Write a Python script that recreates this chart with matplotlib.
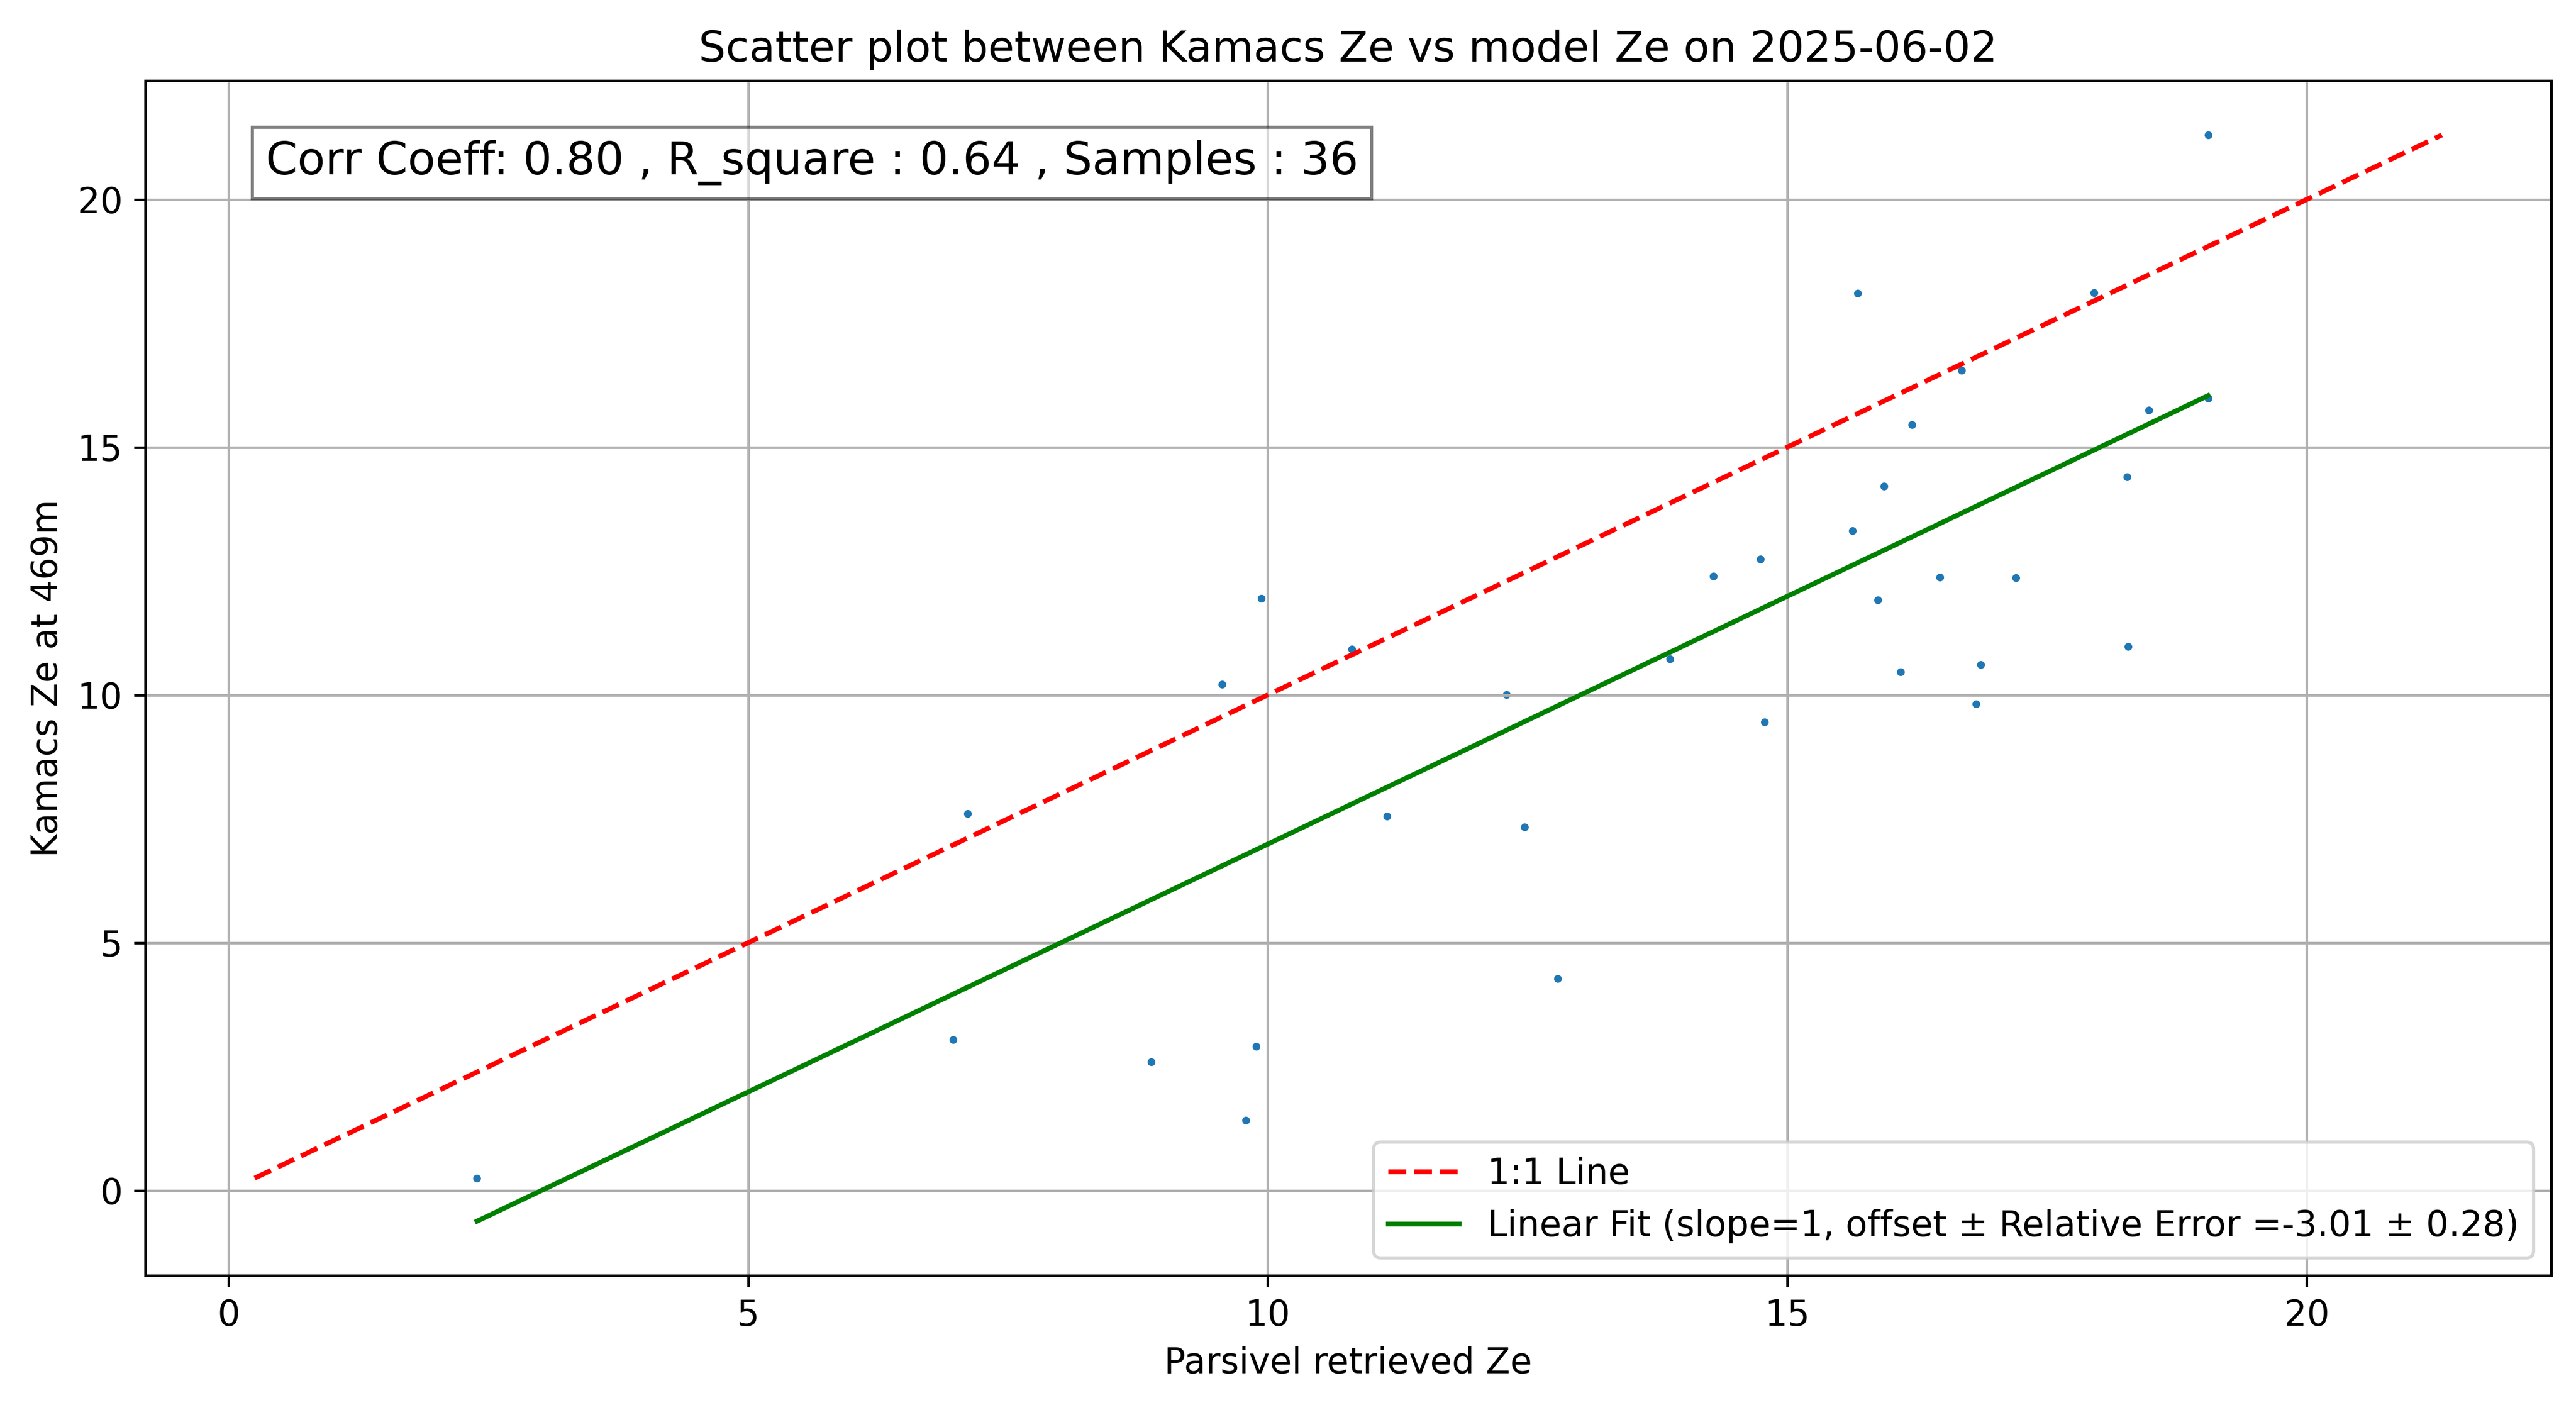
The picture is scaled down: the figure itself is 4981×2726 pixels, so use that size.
import numpy as np
import matplotlib
matplotlib.use('Agg')
import matplotlib.pyplot as plt


# values
parsivel_ze = [2.39, 6.97, 7.11, 8.88, 9.56, 9.79, 9.89, 9.94, 10.81, 11.15,
               12.30, 12.47, 12.79, 13.87, 14.29, 14.74, 14.78, 15.63, 15.68, 15.87,
               15.93, 16.09, 16.20, 16.47, 16.68, 16.82, 16.86, 17.20, 17.95, 18.27,
               18.28, 18.48, 19.05, 19.05]
kamacs_ze = [0.25, 3.04, 7.61, 2.59, 10.21, 1.42, 2.91, 11.95, 10.92, 7.55,
             10.01, 7.33, 4.28, 10.73, 12.40, 12.74, 9.45, 13.31, 18.11, 11.92,
             14.21, 10.47, 15.45, 12.38, 16.55, 9.82, 10.61, 12.37, 18.12, 14.40,
             10.98, 15.75, 21.30, 15.99]

offset = -3.01
offset_err = 0.28
corr_coeff = 0.80
r_square = 0.64
samples = 36
date = '2025-06-02'
height = '469m'


def main():
    plt.rcParams['font.size'] = 11
    x = np.array(parsivel_ze)
    y = np.array(kamacs_ze)

    fig = plt.figure(figsize=(4981 / 450, 2726 / 450), dpi=450)
    ax = fig.add_axes([281 / 4981, 1 - 2466 / 2726, (4933 - 281) / 4981, (2466 - 156) / 2726])

    ax.scatter(x, y, s=2)

    lo = min(x.min(), y.min())
    hi = max(x.max(), y.max())
    ax.plot([lo, hi], [lo, hi], 'r--', label='1:1 Line')

    xf = np.array([x.min(), x.max()])
    ax.plot(xf, xf + offset, 'g-',
            label=f'Linear Fit (slope=1, offset \u00b1 Relative Error ={offset:.2f} \u00b1 {offset_err:.2f})')

    ax.text(0.05, 0.95,
            f'Corr Coeff: {corr_coeff:.2f} , R_square : {r_square:.2f} , Samples : {samples}',
            transform=ax.transAxes, fontsize=14, va='top',
            bbox=dict(facecolor='white', alpha=0.5))

    ax.set_xlabel('Parsivel retrieved Ze')
    ax.set_ylabel(f'Kamacs Ze at {height}')
    ax.set_title(f'Scatter plot between Kamacs Ze vs model Ze on {date}')
    ax.legend(loc='lower right')
    ax.grid(True)

    fig.savefig('out.png', dpi=450)


if __name__ == '__main__':
    main()
